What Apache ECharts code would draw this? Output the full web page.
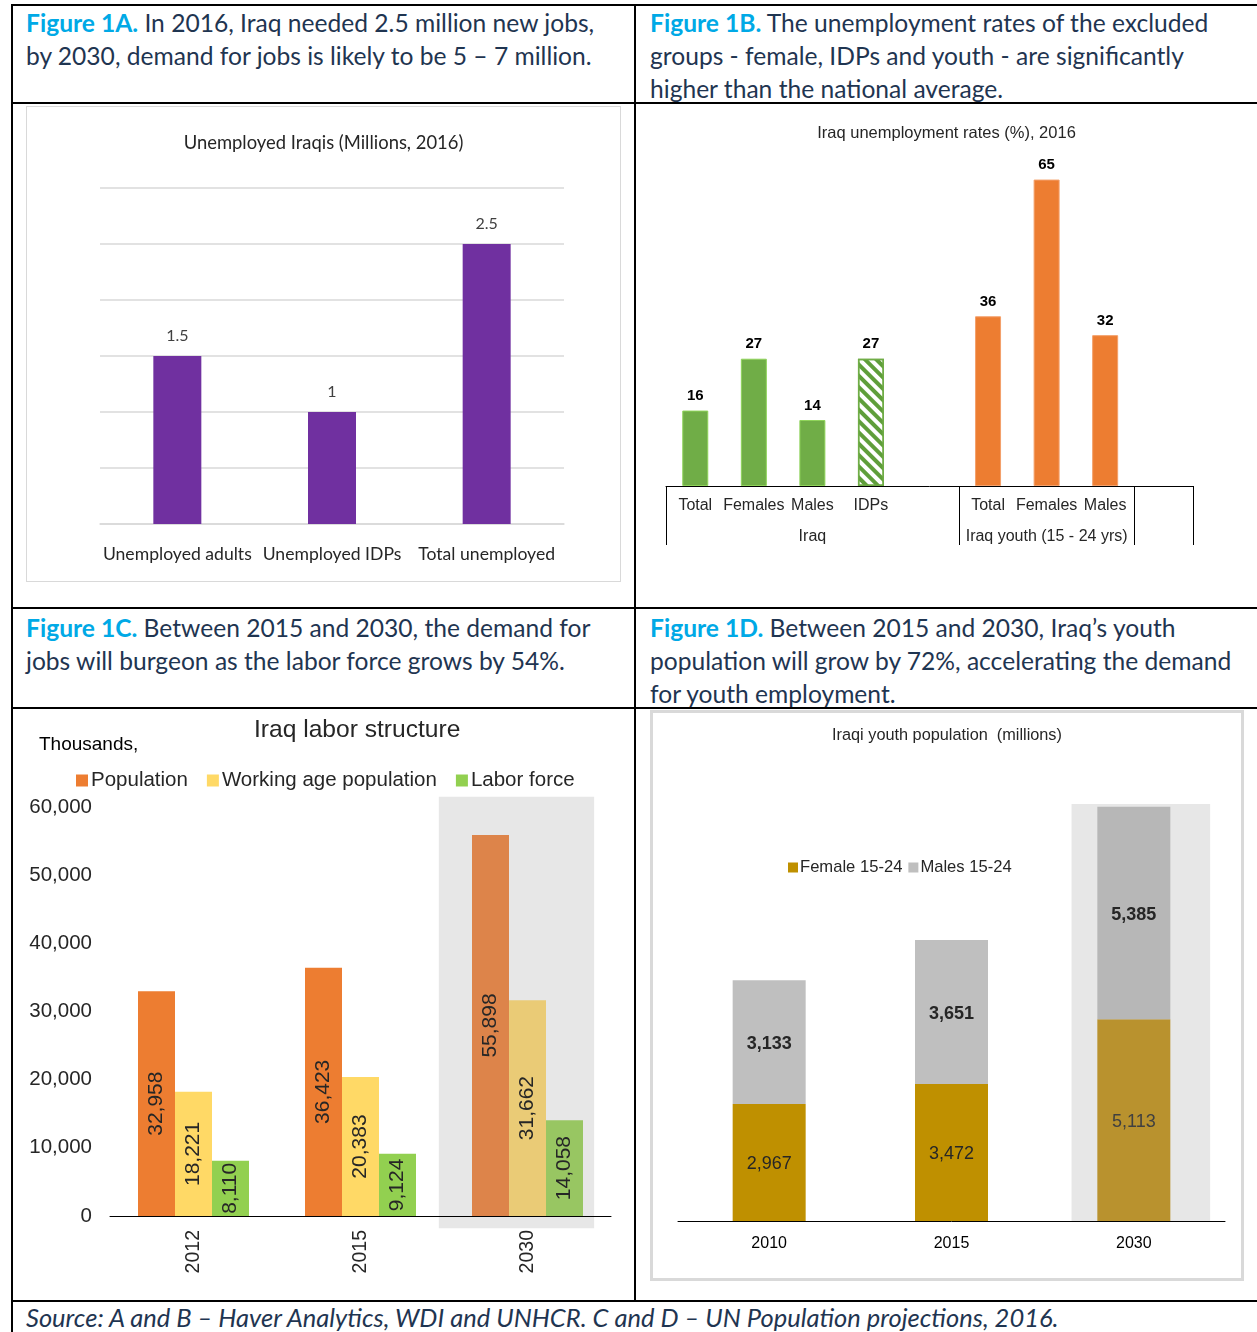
<!DOCTYPE html>
<html>
<head>
<meta charset="utf-8">
<script src="https://cdn.jsdelivr.net/npm/echarts@6/dist/echarts.min.js"></script>
<style>
    html, body { margin: 0; padding: 0; background: #fff; }
    body { position: relative; width: 1257px; height: 1332px; overflow: hidden; }
    .rule { position: absolute; background: #000; }
    .head { position: absolute; font-family: Lato, 'Open Sans', sans-serif; font-size: 24.6px;
            line-height: 33px; color: #1f3551; white-space: nowrap; }
    .head b { color: #00a9e6; }
    .chart { position: absolute; }
</style>
</head>
<body>
<!-- table lines -->
<div class="rule" style="left:11px;top:4px;width:1246px;height:2px"></div>
<div class="rule" style="left:11px;top:102px;width:1246px;height:2px"></div>
<div class="rule" style="left:11px;top:607px;width:1246px;height:2px"></div>
<div class="rule" style="left:11px;top:707px;width:1246px;height:2px"></div>
<div class="rule" style="left:11px;top:1300px;width:1246px;height:2px"></div>
<div class="rule" style="left:11px;top:4px;width:2px;height:1328px"></div>
<div class="rule" style="left:634px;top:4px;width:2px;height:1298px"></div>

<div class="head" style="left:26px;top:6px"><b>Figure 1A.</b> In 2016, Iraq needed 2.5 million new jobs,<br>by 2030, demand for jobs is likely to be 5 – 7 million.</div>
<div class="head" style="left:650px;top:6px"><b>Figure 1B.</b> The unemployment rates of the excluded<br>groups - female, IDPs and youth - are significantly<br>higher than the national average.</div>
<div class="head" style="left:26px;top:611px"><b>Figure 1C.</b> Between 2015 and 2030, the demand for<br>jobs will burgeon as the labor force grows by 54%.</div>
<div class="head" style="left:650px;top:611px"><b>Figure 1D.</b> Between 2015 and 2030, Iraq’s youth<br>population will grow by 72%, accelerating the demand<br>for youth employment.</div>
<div class="head" style="left:26px;top:1301px;font-style:italic;font-size:25.5px">Source: A and B – Haver Analytics, WDI and UNHCR. C and D – UN Population projections, 2016.</div>

<div id="chartA" class="chart" style="left:26px;top:106px;width:593px;height:474px;border:1px solid #d9d9d9"></div>
<div id="chartB" class="chart" style="left:636px;top:105px;width:621px;height:500px"></div>
<div id="chartC" class="chart" style="left:13px;top:710px;width:621px;height:590px"></div>
<div id="chartD" class="chart" style="left:650px;top:710px;width:594px;height:571px;box-sizing:border-box;border:3px solid #d9d9d9"></div>

<script>
// Figure 1A
const aCategories = ['Unemployed adults', 'Unemployed IDPs', 'Total unemployed'];
const aValues = [1.5, 1, 2.5];

// Figure 1B
const bCategories = ['Total', 'Females', 'Males', 'IDPs', '', 'Total', 'Females', 'Males', ''];
const bGroups = ['', '', 'Iraq', '', '', '', 'Iraq youth (15 - 24 yrs)', '', ''];
const bValues = [16, 27, 14, 27, null, 36, 65, 32, null];

// Figure 1C
const cYears = ['2012', '2015', '2030'];
const cPopulation = [32958, 36423, 55898];
const cWorkingAge = [18221, 20383, 31662];
const cLaborForce = [8110, 9124, 14058];

// Figure 1D
const dYears = ['2010', '2015', '2030'];
const dFemale = [2967, 3472, 5113];
const dMale = [3133, 3651, 5385];

const ARIAL = 'Liberation Sans, Arial, sans-serif';
const fmt = (v) => Number(v).toLocaleString('en-US');

// ---------- A ----------
let chartA = echarts.init(document.getElementById('chartA'));
chartA.setOption({
    animation: false,
    title: {
        text: 'Unemployed Iraqis (Millions, 2016)',
        left: 'center',
        top: 22,
        textStyle: { fontFamily: 'Lato', fontWeight: 'normal', fontSize: 18.4, color: '#262626' }
    },
    grid: { left: 73, right: 56, top: 81, bottom: 57 },
    xAxis: {
        type: 'category',
        data: aCategories,
        axisLine: { lineStyle: { color: '#d9d9d9', width: 1.5 } },
        axisTick: { show: false },
        axisLabel: { interval: 0, margin: 21, fontFamily: 'Lato', fontSize: 17.6, color: '#262626' }
    },
    yAxis: {
        type: 'value',
        min: 0,
        max: 3,
        interval: 0.5,
        axisLabel: { show: false },
        splitLine: { lineStyle: { color: '#d9d9d9', width: 1.5 } }
    },
    series: [{
        type: 'bar',
        data: aValues,
        barWidth: 48,
        itemStyle: { color: '#7030a0' },
        label: { show: true, position: 'top', distance: 12, fontFamily: 'Lato', fontSize: 16, color: '#404040' }
    }]
});

// ---------- B ----------
let bData = bValues.map((v, i) => {
    if (v === null) return null;
    if (i < 3) return { value: v, itemStyle: { color: '#70ad47', borderColor: '#8fd45a', borderWidth: 1 } };
    if (i === 3) {
        return {
            value: v,
            itemStyle: {
                color: '#ffffff',
                borderColor: '#70ad47',
                borderWidth: 1.5,
                decal: {
                    symbol: 'rect',
                    symbolSize: 1,
                    dashArrayX: [1, 0],
                    dashArrayY: [4, 4],
                    rotation: Math.PI / 4,
                    color: '#5f9e3a'
                }
            }
        };
    }
    return { value: v, itemStyle: { color: '#ed7d31', borderColor: '#f4a06a', borderWidth: 1 } };
});
let chartB = echarts.init(document.getElementById('chartB'));
chartB.setOption({
    animation: false,
    title: {
        text: 'Iraq unemployment rates (%), 2016',
        left: 'center',
        top: 15,
        textStyle: { fontFamily: ARIAL, fontWeight: 'normal', fontSize: 16.5, color: '#262626' }
    },
    grid: { left: 30, right: 64, top: 51, bottom: 119 },
    xAxis: [{
        type: 'category',
        data: bCategories,
        axisLine: { lineStyle: { color: '#000', width: 1 } },
        axisTick: { show: false },
        axisLabel: { interval: 0, hideOverlap: false, margin: 12, fontFamily: ARIAL, fontSize: 16, color: '#262626' }
    }, {
        type: 'category',
        position: 'bottom',
        data: bGroups,
        axisLine: { show: false },
        axisTick: {
            show: true,
            length: 59,
            lineStyle: { color: '#000', width: 1 },
            interval: (i) => i === 0 || i === 5 || i === 8
        },
        axisLabel: { interval: 0, hideOverlap: false, margin: 43, fontFamily: ARIAL, fontSize: 16, color: '#262626' }
    }],
    yAxis: { type: 'value', min: 0, max: 70, show: false },
    series: [{
        type: 'bar',
        data: bData,
        barWidth: 26,
        label: { show: true, position: 'top', distance: 7, fontFamily: ARIAL, fontWeight: 'bold', fontSize: 15, color: '#000' }
    }]
});

// ---------- C ----------
let cLabel = { show: true, position: 'inside', rotate: 90, fontFamily: ARIAL, fontSize: 21, color: '#262626', formatter: (p) => fmt(p.value) };
let chartC = echarts.init(document.getElementById('chartC'));
chartC.setOption({
    animation: false,
    title: [{
        text: 'Iraq labor structure',
        left: 236,
        top: 3,
        textStyle: { fontFamily: ARIAL, fontWeight: 'normal', fontSize: 24.6, color: '#262626' }
    }, {
        text: 'Thousands,',
        left: 21,
        top: 20,
        textStyle: { fontFamily: ARIAL, fontWeight: 'normal', fontSize: 19, color: '#000' }
    }],
    legend: {
        left: 58,
        top: 55,
        itemWidth: 12,
        itemHeight: 12,
        itemGap: 19,
        icon: 'rect',
        textStyle: { fontFamily: ARIAL, fontSize: 20.5, color: '#262626', padding: [0, 0, 0, -2] },
        data: ['Population', 'Working age population', 'Labor force']
    },
    grid: { left: 97, right: 23, top: 97, bottom: 84 },
    xAxis: {
        type: 'category',
        data: cYears,
        axisLine: { lineStyle: { color: '#000', width: 1 } },
        axisTick: { show: false },
        axisLabel: { rotate: 90, margin: 14, fontFamily: ARIAL, fontSize: 19.5, color: '#262626' }
    },
    yAxis: {
        type: 'value',
        min: 0,
        max: 60000,
        interval: 10000,
        axisLabel: { margin: 18, fontFamily: ARIAL, fontSize: 20.5, color: '#262626', formatter: fmt },
        splitLine: { show: false }
    },
    series: [{
        // grey highlight behind 2030
        type: 'custom',
        z: 0,
        silent: true,
        data: [['2030', 61500, -1800]],
        renderItem: (params, api) => {
            let top = api.coord([api.value(0), api.value(1)]);
            let bottom = api.coord([api.value(0), api.value(2)]);
            let w = api.size([1, 0])[0] * 0.93;
            return {
                type: 'rect',
                shape: { x: top[0] - 11 - w / 2, y: top[1], width: w, height: bottom[1] - top[1] },
                style: { fill: '#e7e7e7' }
            };
        }
    }, {
        name: 'Population',
        type: 'bar',
        barWidth: 37,
        barGap: '0%',
        z: 2,
        itemStyle: { color: '#ed7d31' },
        data: cPopulation.map((v, i) => i === 2 ? { value: v, itemStyle: { color: '#dd844a' } } : v),
        label: cLabel
    }, {
        name: 'Working age population',
        type: 'bar',
        barWidth: 37,
        barGap: '0%',
        z: 2,
        itemStyle: { color: '#ffd966' },
        data: cWorkingAge.map((v, i) => i === 2 ? { value: v, itemStyle: { color: '#eacb76' } } : v),
        label: cLabel
    }, {
        name: 'Labor force',
        type: 'bar',
        barWidth: 37,
        barGap: '0%',
        z: 2,
        itemStyle: { color: '#92d050' },
        data: cLaborForce.map((v, i) => i === 2 ? { value: v, itemStyle: { color: '#98c662' } } : v),
        label: cLabel
    }]
});

// ---------- D ----------
let chartD = echarts.init(document.getElementById('chartD'));
chartD.setOption({
    animation: false,
    title: {
        text: 'Iraqi youth population  (millions)',
        left: 'center',
        top: 10,
        textStyle: { fontFamily: ARIAL, fontWeight: 'normal', fontSize: 16.3, color: '#262626' }
    },
    legend: {
        left: 130,
        top: 141,
        itemWidth: 10,
        itemHeight: 10,
        itemGap: 6,
        icon: 'rect',
        textStyle: { fontFamily: ARIAL, fontSize: 16.6, color: '#262626', padding: [0, 0, 0, -3] },
        data: ['Female 15-24', 'Males 15-24']
    },
    grid: { left: 25, right: 16, top: 74, bottom: 57 },
    xAxis: {
        type: 'category',
        data: dYears,
        axisLine: { lineStyle: { color: '#000', width: 1 } },
        axisTick: { show: false },
        axisLabel: { margin: 15, fontFamily: ARIAL, fontSize: 16, color: '#000' }
    },
    yAxis: { type: 'value', min: 0, max: 11000, show: false },
    series: [{
        type: 'custom',
        z: 0,
        silent: true,
        data: [['2030', 10570, 0]],
        renderItem: (params, api) => {
            let top = api.coord([api.value(0), api.value(1)]);
            let bottom = api.coord([api.value(0), api.value(2)]);
            let w = api.size([1, 0])[0] * 0.76;
            return {
                type: 'rect',
                shape: { x: top[0] + 7 - w / 2, y: top[1], width: w, height: bottom[1] - top[1] },
                style: { fill: '#e7e7e7' }
            };
        }
    }, {
        name: 'Female 15-24',
        type: 'bar',
        stack: 'youth',
        barWidth: 73,
        z: 2,
        itemStyle: { color: '#bf9000' },
        data: dFemale.map((v, i) => i === 2 ? { value: v, itemStyle: { color: '#b9922e' }, label: { color: '#404040' } } : v),
        label: { show: true, position: 'inside', offset: [0, 2], fontFamily: ARIAL, fontSize: 18, color: '#262626', formatter: (p) => fmt(p.value) }
    }, {
        name: 'Males 15-24',
        type: 'bar',
        stack: 'youth',
        barWidth: 73,
        z: 2,
        itemStyle: { color: '#bfbfbf' },
        data: dMale.map((v, i) => i === 2 ? { value: v, itemStyle: { color: '#b7b7b7' } } : v),
        label: { show: true, position: 'inside', offset: [0, 2], fontFamily: ARIAL, fontWeight: 'bold', fontSize: 18, color: '#262626', formatter: (p) => fmt(p.value) }
    }]
});
</script>
</body>
</html>
